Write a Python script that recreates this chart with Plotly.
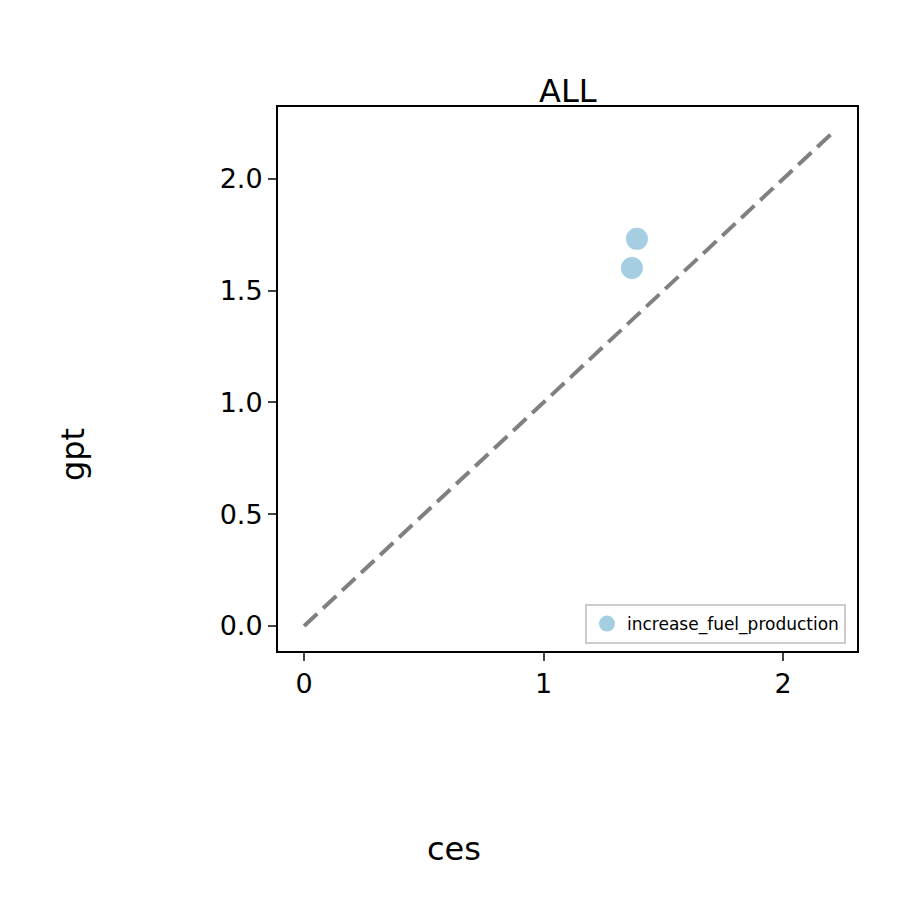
import plotly.graph_objects as go

ces = [1.369, 1.390]
gpt = [1.602, 1.732]
diag = [0, 2.2]
series_name = "increase_fuel_production"

fig = go.Figure()
fig.add_trace(go.Scatter(x=diag, y=diag, mode="lines", line=dict(color="gray", width=4, dash="18px,8px"), showlegend=False))
fig.add_trace(go.Scatter(x=ces, y=gpt, mode="markers", name=series_name,
                         marker=dict(color="#a6cee3", size=22)))
ax = dict(showgrid=False, zeroline=False, showline=True, mirror=True, linecolor="black", linewidth=2,
          ticks="outside", ticklen=8, tickwidth=2, tickfont=dict(size=27, color="black"))
fig.update_layout(
    width=900, height=900, plot_bgcolor="white", paper_bgcolor="white",
    font=dict(family="DejaVu Sans", color="black"),
    margin=dict(l=0, r=0, t=0, b=0),
    xaxis=dict(ax, range=[-0.109, 2.309], domain=[270/900, 849/900], tickvals=[0, 1, 2]),
    yaxis=dict(ax, range=[-0.112, 2.322], domain=[1-643/900, 1-99/900], tickvals=[0, 0.5, 1, 1.5, 2], tickformat=".1f"),
    legend=dict(x=838/900, y=1-636/900, xanchor="right", yanchor="bottom", bordercolor="#cccccc", borderwidth=2,
                bgcolor="white", font=dict(size=17)),
    annotations=[
        dict(text="ALL", x=560/900, y=1-62/900, xref="paper", yref="paper", showarrow=False, font=dict(size=32)),
        dict(text="ces", x=446/900, y=1-862/900, xref="paper", yref="paper", showarrow=False, font=dict(size=32)),
        dict(text="gpt", x=44/900, y=1-447/900, xref="paper", yref="paper", showarrow=False, textangle=-90, font=dict(size=32)),
    ],
)
fig.write_html("out.html")
